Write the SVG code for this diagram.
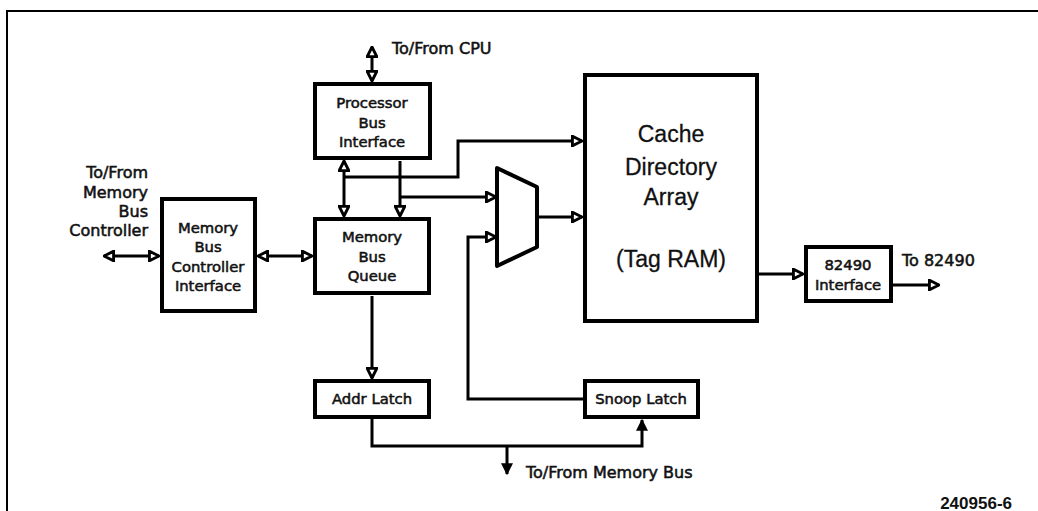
<svg xmlns="http://www.w3.org/2000/svg" width="1038" height="511" viewBox="0 0 1038 511">
<style>
.box{fill:#fff;stroke:#000;stroke-width:4}
.t{font-family:"DejaVu Sans","Liberation Sans",sans-serif;font-size:14.8px;fill:#111;stroke:#111;stroke-width:0.55}
.l{font-size:16px}
.c{text-anchor:middle}
.big{font-family:"Liberation Sans",Arial,sans-serif;font-size:23px;fill:#111;text-anchor:middle;stroke:#111;stroke-width:0.3}
.w{fill:none;stroke:#000;stroke-width:3}
.a{marker-end:url(#ah)}
.d{marker-start:url(#ah);marker-end:url(#ah)}
.f{marker-end:url(#fh)}
</style>
<defs>
<marker id="ah" viewBox="0 0 10 10" refX="9" refY="5" markerWidth="12" markerHeight="12" markerUnits="userSpaceOnUse" orient="auto-start-reverse">
<path d="M1,1 L9,5 L1,9 z" fill="#fff" stroke="#000" stroke-width="2.4" stroke-linejoin="miter"/>
</marker>
<marker id="fh" viewBox="0 0 10 10" refX="9" refY="5" markerWidth="12" markerHeight="12" markerUnits="userSpaceOnUse" orient="auto-start-reverse">
<path d="M0,0 L10,5 L0,10 z" fill="#000"/>
</marker>
</defs>
<rect width="1038" height="511" fill="#fff"/>
<path d="M7,511 V11 H1038" fill="none" stroke="#000" stroke-width="2"/>

<g id="connectors">
<path class="w d" d="M372,47 V81"/>
<path class="w d" d="M104,256 H159"/>
<path class="w d" d="M258,256 H312"/>
<path class="w d" d="M344,161 V216"/>
<path class="w a" d="M344,177 H458 V141 H582"/>
<path class="w a" d="M400,161 V216"/>
<path class="w a" d="M400,197 H496"/>
<path class="w a" d="M537,217 H582"/>
<path class="w a" d="M583,399 H468 V237 H496"/>
<path class="w a" d="M372,296 V378"/>
<path class="w f" d="M372,419 V446 H642 V420"/>
<path class="w f" d="M507,446 V474"/>
<path class="w a" d="M759,274 H803"/>
<path class="w a" d="M893,285 H939"/>
</g>

<g id="pbi">
<rect class="box" x="315" y="84" width="115" height="74"/>
<text class="t c" x="372" y="108">Processor</text>
<text class="t c" x="372" y="128">Bus</text>
<text class="t c" x="372" y="147">Interface</text>
</g>

<g id="mbci">
<rect class="box" x="162" y="199" width="93" height="112"/>
<text class="t c" x="208" y="233">Memory</text>
<text class="t c" x="208" y="252">Bus</text>
<text class="t c" x="208" y="272">Controller</text>
<text class="t c" x="208" y="291">Interface</text>
</g>

<g id="mbq">
<rect class="box" x="315" y="219" width="114" height="74"/>
<text class="t c" x="372" y="242">Memory</text>
<text class="t c" x="372" y="262">Bus</text>
<text class="t c" x="372" y="281">Queue</text>
</g>

<g id="mux">
<polygon points="497,168 537,187 537,247 497,266" fill="#fff" stroke="#000" stroke-width="4" stroke-linejoin="round"/>
</g>

<g id="cache">
<rect class="box" x="585" y="75" width="172" height="246"/>
<text class="big" x="671" y="142">Cache</text>
<text class="big" x="671" y="175">Directory</text>
<text class="big" x="671" y="205">Array</text>
<text class="big" x="671" y="267">(Tag RAM)</text>
</g>

<g id="addr">
<rect class="box" x="315" y="381" width="114" height="36"/>
<text class="t c" x="372" y="404">Addr Latch</text>
</g>

<g id="snoop">
<rect class="box" x="585" y="381" width="113" height="36"/>
<text class="t c" x="641" y="404">Snoop Latch</text>
</g>

<g id="i82490">
<rect class="box" x="806" y="247" width="85" height="54"/>
<text class="t c" x="848" y="270">82490</text>
<text class="t c" x="848" y="290">Interface</text>
</g>

<g id="labels">
<text class="t l" x="392" y="54">To/From CPU</text>
<text class="t l" x="148" y="178" text-anchor="end">To/From</text>
<text class="t l" x="148" y="198" text-anchor="end">Memory</text>
<text class="t l" x="148" y="217" text-anchor="end">Bus</text>
<text class="t l" x="148" y="236" text-anchor="end">Controller</text>
<text class="t l" x="526" y="478">To/From Memory Bus</text>
<text class="t l" x="902" y="266">To 82490</text>
<text x="1012" y="509" text-anchor="end" style="font-family:'Liberation Sans',Arial,sans-serif;font-weight:bold;font-size:17px;fill:#111">240956-6</text>
</g>
</svg>
